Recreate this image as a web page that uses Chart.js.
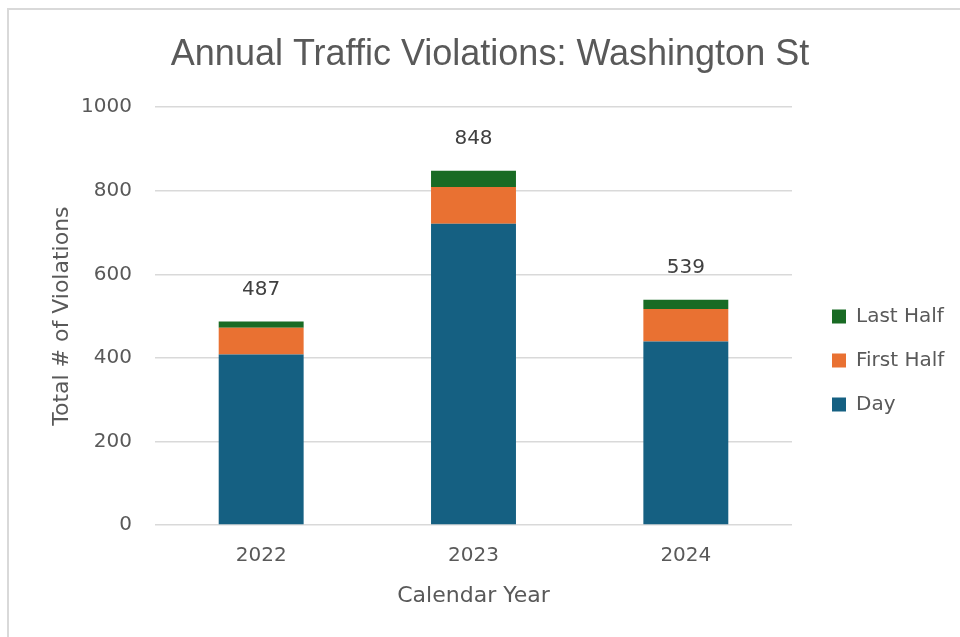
<!DOCTYPE html>
<html>
<head>
<meta charset="utf-8">
<script src="https://cdn.jsdelivr.net/npm/chart.js@4/dist/chart.umd.min.js"></script>
<style>
  html, body { margin: 0; padding: 0; background: #fff; overflow: hidden; }
  #frame { position: absolute; left: 7px; top: 8px; width: 1000px; height: 700px; border: 2px solid #d9d9d9; }
  #chart { position: absolute; left: 0; top: 0; }
</style>
</head>
<body>
<div id="frame"></div>
<canvas id="chart" width="960" height="637"></canvas>
<script>
const years = ["2022", "2023", "2024"];
const dayCounts = [408, 721, 439];
const firstHalfCounts = [64, 88, 78];
const lastHalfCounts = [15, 39, 22];
const yTicks = [0, 200, 400, 600, 800, 1000];

const textColor = "#595959";
const font = "'DejaVu Sans', sans-serif";

// legend sits in its own column right of the plot
const legendWidth = 168;
const legendShiftX = 16;
const legendShiftY = 42;

const totalsPlugin = {
    id: "totals",
    afterInit(chart) {
        const lg = chart.legend;
        const fit = lg.fit;
        lg.fit = function () {
            fit.call(this);
            this.width = legendWidth;
        };
    },
    afterUpdate(chart) {
        const lg = chart.legend;
        lg.left += legendShiftX;
        lg.right += legendShiftX;
        lg.top += legendShiftY;
        lg.bottom += legendShiftY;
        lg.adjustHitBoxes();
    },
    afterDatasetsDraw(chart) {
        const ctx = chart.ctx;
        const x = chart.scales.x;
        const y = chart.scales.y;
        ctx.save();
        ctx.font = "20px " + font;
        ctx.fillStyle = "#404040";
        ctx.textAlign = "center";
        ctx.textBaseline = "middle";
        years.forEach((yr, i) => {
            const total = dayCounts[i] + firstHalfCounts[i] + lastHalfCounts[i];
            ctx.fillText(String(total), x.getPixelForValue(i), y.getPixelForValue(total) - 32);
        });
        ctx.restore();
    },
};

new Chart(document.getElementById("chart"), {
    type: "bar",
    data: {
        labels: years,
        datasets: [
            { label: "Day", data: dayCounts, backgroundColor: "#156082" },
            { label: "First Half", data: firstHalfCounts, backgroundColor: "#E97132" },
            { label: "Last Half", data: lastHalfCounts, backgroundColor: "#196B24" },
        ],
    },
    options: {
        responsive: false,
        animation: false,
        layout: { padding: { left: 20, right: 0, top: 0, bottom: 0 } },
        datasets: { bar: { categoryPercentage: 1, barPercentage: 0.4 } },
        plugins: {
            title: {
                display: true,
                text: "Annual Traffic Violations: Washington St",
                color: textColor,
                font: { family: "'Liberation Sans', Arial, sans-serif", size: 36, weight: "normal" },
                padding: { top: 33, bottom: 31 },
            },
            legend: {
                position: "right",
                reverse: true,
                labels: {
                    color: textColor,
                    font: { family: font, size: 20 },
                    boxWidth: 14,
                    boxHeight: 14,
                    padding: 24,
                },
            },
            tooltip: { enabled: false },
        },
        scales: {
            x: {
                stacked: true,
                grid: { display: false },
                border: { display: false },
                ticks: { color: textColor, font: { family: font, size: 20 }, padding: 11 },
                title: {
                    display: true,
                    text: "Calendar Year",
                    color: textColor,
                    font: { family: font, size: 22 },
                    padding: { top: 0, bottom: 28 },
                },
                afterFit(scale) { scale.height = 112; },
            },
            y: {
                stacked: true,
                min: 0,
                max: 1000,
                afterBuildTicks(scale) { scale.ticks = yTicks.map((v) => ({ value: v })); },
                grid: { color: "#d9d9d9", lineWidth: 1.5, drawTicks: false },
                border: { display: false },
                ticks: {
                    color: textColor,
                    font: { family: font, size: 20 },
                    padding: 23,
                    callback: (v) => String(v),
                },
                title: {
                    display: true,
                    text: "Total # of Violations",
                    color: textColor,
                    font: { family: font, size: 22 },
                    padding: { top: 29, bottom: 0 },
                },
                afterFit(scale) { scale.width = 135; },
            },
        },
    },
    plugins: [totalsPlugin],
});
</script>
</body>
</html>
